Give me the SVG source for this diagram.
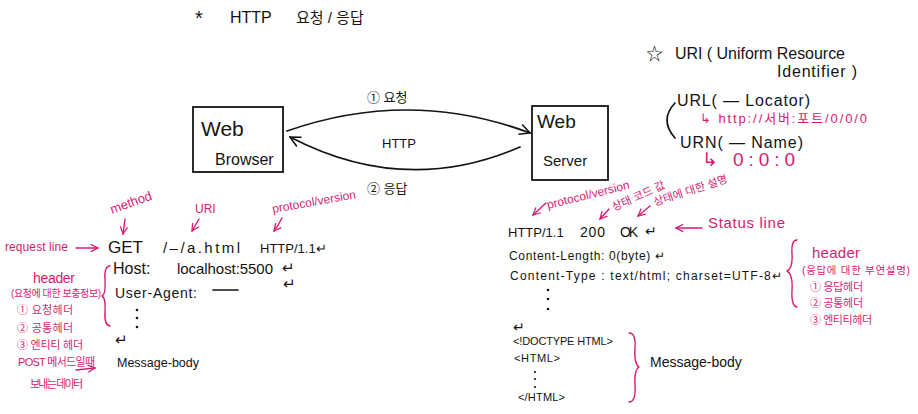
<svg xmlns="http://www.w3.org/2000/svg" width="918" height="414" viewBox="0 0 918 414">
<style>
text{font-family:"Liberation Sans","Noto Sans CJK KR",sans-serif;fill:#141414}
.p{fill:#d81b72}
.ln{fill:none;stroke:#141414;stroke-width:1.7;stroke-linecap:round;stroke-linejoin:round}
.pl{fill:none;stroke:#d81b72;stroke-width:1.4;stroke-linecap:round;stroke-linejoin:round}
.box{fill:none;stroke:#141414;stroke-width:1.8}
.dot{fill:#141414}
</style>
<defs>
<marker id="ah" viewBox="0 0 10 10" refX="9" refY="5" markerWidth="13" markerHeight="13" orient="auto" markerUnits="userSpaceOnUse">
<path d="M1,1 L9,5 L1,9" fill="none" stroke="#141414" stroke-width="1.2"/>
</marker>
<marker id="ap" viewBox="0 0 10 10" refX="9" refY="5" markerWidth="9" markerHeight="9" orient="auto" markerUnits="userSpaceOnUse">
<path d="M1,1 L9,5 L1,9" fill="none" stroke="#d81b72" stroke-width="1.4"/>
</marker>
</defs>
<rect width="918" height="414" fill="#ffffff"/>

<g id="title">
<text x="195" y="25" font-size="20">*</text>
<text x="230" y="23" font-size="16">HTTP</text>
<text x="296" y="23" font-size="15">요청 / 응답</text>
</g>

<g id="browser">
<rect class="box" x="193" y="107" width="90" height="65"/>
<text x="201" y="136" font-size="21">Web</text>
<text x="215" y="165" font-size="16">Browser</text>
</g>

<g id="server">
<rect class="box" x="532" y="106" width="76" height="74"/>
<text x="537" y="128" font-size="19">Web</text>
<text x="543" y="166" font-size="15">Server</text>
</g>

<g id="connectors">
<path class="ln" d="M287,131 Q410,88 530,133" marker-end="url(#ah)"/>
<path class="ln" d="M520,147 Q405,197 290,137" marker-end="url(#ah)"/>
<path class="pl" d="M125,219 L123,234" marker-end="url(#ap)"/>
<path class="pl" d="M199,219 Q195,226 192,231" marker-end="url(#ap)"/>
<path class="pl" d="M282,218 Q278,226 274,231" marker-end="url(#ap)"/>
<path class="pl" d="M76,248 L98,248" marker-end="url(#ap)"/>
<path class="pl" d="M76,370 L95,368" marker-end="url(#ap)"/>
<path class="pl" d="M546,203 L533,215" marker-end="url(#ap)"/>
<path class="pl" d="M609,209 L600,219" marker-end="url(#ap)"/>
<path class="pl" d="M650,206 L638,216" marker-end="url(#ap)"/>
<path class="pl" d="M702,228 L676,228" marker-end="url(#ap)"/>
</g>

<g id="arc-labels">
<text x="367" y="102" font-size="13">① 요청</text>
<text x="382" y="148" font-size="13">HTTP</text>
<text x="367" y="193" font-size="13">② 응답</text>
</g>

<g id="uri">
<text x="646" y="60" font-size="17">☆</text>
<text x="675" y="59" font-size="16" textLength="170">URI ( Uniform Resource</text>
<text x="777" y="77" font-size="16" textLength="80">Identifier )</text>
<path class="ln" d="M675,103 Q659,120 675,138"/>
<text x="677" y="106" font-size="16" textLength="133">URL( — Locator)</text>
<text class="p" x="700" y="123" font-size="13" textLength="167">↳ http://서버:포트/0/0/0</text>
<text x="680" y="148" font-size="16" textLength="123">URN( — Name)</text>
<text class="p" x="702" y="166" font-size="19" textLength="93">↳ 0:0:0</text>
</g>

<g id="request">
<text class="p" x="112" y="214" font-size="13" transform="rotate(-20 112 214)">method</text>
<text class="p" x="195" y="213" font-size="12">URI</text>
<text class="p" x="273" y="213" font-size="12" transform="rotate(-10 273 213)">protocol/version</text>
<text class="p" x="5" y="251" font-size="12" textLength="63">request line</text>
<text x="108" y="253" font-size="17">GET</text>
<text x="163" y="253" font-size="15" textLength="77">/–/a.html</text>
<text x="260" y="253" font-size="13">HTTP/1.1↵</text>
<path class="pl" d="M110,266 Q104,266 105,280 Q106,294 102,296 Q106,298 105,312 Q104,325 110,326"/>
<text x="113" y="274" font-size="16">Host:</text>
<text x="177" y="274" font-size="15" textLength="96">localhost:5500</text>
<text x="282" y="273" font-size="15">↵</text>
<text x="283" y="289" font-size="15">↵</text>
<text x="115" y="298" font-size="14" textLength="82">User-Agent:</text>
<path class="ln" d="M213,290 L238,290"/>
<circle class="dot" cx="137" cy="310" r="1.3"/>
<circle class="dot" cx="137" cy="318" r="1.3"/>
<circle class="dot" cx="137" cy="327" r="1.3"/>
<text x="115" y="345" font-size="15">↵</text>
<text x="117" y="367" font-size="12.5">Message-body</text>
<text class="p" x="33" y="283" font-size="14" textLength="42">header</text>
<text class="p" x="11" y="297" font-size="10" textLength="90">(요청에 대한 보충정보)</text>
<text class="p" x="17" y="314" font-size="11" textLength="56">① 요청헤더</text>
<text class="p" x="17" y="332" font-size="11" textLength="56">② 공통헤더</text>
<text class="p" x="17" y="349" font-size="11" textLength="66">③ 엔티티 헤더</text>
<text class="p" x="18" y="366" font-size="11" textLength="77">POST 메서드일때</text>
<text class="p" x="30" y="388" font-size="11" textLength="53">보내는 데이터</text>
</g>

<g id="response">
<text class="p" x="548" y="209" font-size="12" transform="rotate(-14 548 209)">protocol/version</text>
<text class="p" x="614" y="211" font-size="11" transform="rotate(-24 614 211)">상태 코드 값</text>
<text class="p" x="655" y="206" font-size="11" transform="rotate(-18 655 206)">상태에 대한 설명</text>
<text x="508" y="237" font-size="13">HTTP/1.1</text>
<text x="580" y="237" font-size="14" textLength="25">200</text>
<text x="620" y="237" font-size="14" textLength="18">OK</text>
<text x="645" y="236" font-size="14">↵</text>
<text class="p" x="708" y="228" font-size="15" textLength="77">Status line</text>
<text x="509" y="260" font-size="12" textLength="156">Content-Length: 0(byte) ↵</text>
<text x="510" y="280" font-size="12" textLength="272">Content-Type : text/html; charset=UTF-8↵</text>
<circle class="dot" cx="548" cy="290" r="1.3"/>
<circle class="dot" cx="548" cy="299" r="1.3"/>
<circle class="dot" cx="548" cy="309" r="1.3"/>
<text x="513" y="332" font-size="14">↵</text>
<text x="513" y="345" font-size="11" textLength="100">&lt;!DOCTYPE HTML&gt;</text>
<text x="514" y="362" font-size="11" textLength="46">&lt;HTML&gt;</text>
<circle class="dot" cx="535" cy="372" r="1.1"/>
<circle class="dot" cx="535" cy="379" r="1.1"/>
<circle class="dot" cx="535" cy="387" r="1.1"/>
<text x="518" y="401" font-size="11" textLength="47">&lt;/HTML&gt;</text>
<path class="pl" d="M629,333 Q636,333 635,348 Q634,364 639,367 Q634,370 635,386 Q636,402 629,402"/>
<text x="650" y="367" font-size="14">Message-body</text>
<path class="pl" d="M797,240 Q791,240 792,254 Q793,268 787,271 Q793,274 792,290 Q791,306 797,307"/>
<text class="p" x="812" y="258" font-size="15" textLength="48">header</text>
<text class="p" x="802" y="274" font-size="10.5" textLength="108">(응답에 대한 부연설명)</text>
<text class="p" x="810" y="291" font-size="11" textLength="53">① 응답헤더</text>
<text class="p" x="810" y="307" font-size="11" textLength="53">② 공통헤더</text>
<text class="p" x="810" y="324" font-size="11" textLength="62">③ 엔티티헤더</text>
</g>
</svg>
